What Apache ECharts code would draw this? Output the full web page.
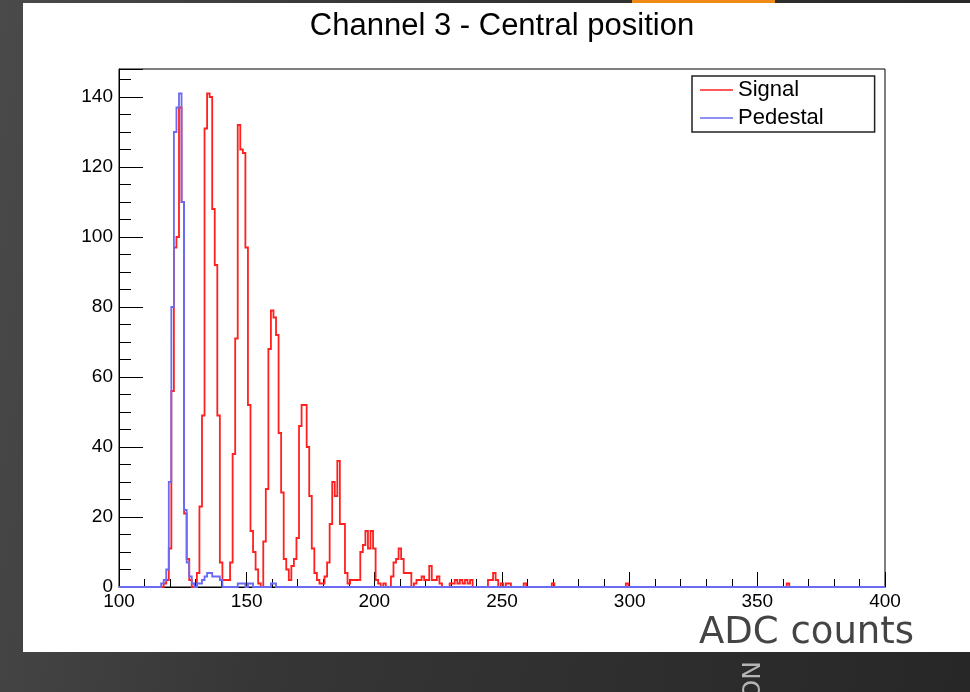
<!DOCTYPE html>
<html><head><meta charset="utf-8">
<script src="https://cdn.jsdelivr.net/npm/echarts@6/dist/echarts.min.js"></script>
<style>
html,body{margin:0;padding:0;width:970px;height:692px;overflow:hidden;background:linear-gradient(100deg,#4a4a4a 0%,#363636 35%,#272727 100%);}
#panel{position:absolute;left:23px;top:3px;width:947px;height:649px;background:#fff;}
#strip{position:absolute;left:632px;top:0;width:143px;height:3px;background:#ef8a17;}
#chart{position:absolute;left:0;top:0;width:970px;height:692px;}
</style></head><body>
<div id="panel"></div><div id="strip"></div><div id="chart"></div>
<script>
// ---- data ----
const chartTitle = 'Channel 3 - Central position';
const xTitle = 'ADC counts';
const sideText = 'CONCLUSION';
const seriesNames = ['Signal', 'Pedestal'];
const xRange = [100, 400];
const xTickStep = 50;
const yTickStep = 20;
const yMinorStep = 5;
const yTop = 148;

// Signal: counts per 1-ADC bin, bin centres from 115 upward
const signalFirstCentre = 115;
const signalCounts = [
  0, 0, 0, 1, 2, 11, 56, 97, 100, 137,
  110, 21, 8, 2, 0, 0, 4, 23, 49, 131,
  141, 140, 108, 92, 49, 7, 2, 2, 2, 7,
  38, 71, 132, 125, 124, 97, 52, 16, 10, 5,
  1, 0, 13, 28, 68, 79, 77, 72, 44, 27,
  8, 5, 2, 6, 8, 14, 46, 52, 52, 40,
  26, 11, 4, 2, 1, 1, 3, 7, 18, 30,
  26, 36, 18, 18, 4, 1, 2, 2, 2, 2,
  10, 12, 16, 11, 16, 11, 2, 1, 0, 1,
  0, 0, 3, 7, 8, 11, 8, 4, 4, 4,
  0, 1, 2, 2, 3, 2, 2, 6, 2, 2,
  3, 1, 0, 0, 0, 1, 1, 2, 1, 2,
  1, 2, 1, 2, 0, 0, 0, 0, 0, 0,
  2, 2, 4, 2, 0, 1, 0, 1, 1
];
const signalTailCentres = [259, 270, 299, 362];
const signalTailCounts = [1, 1, 1, 1];

// Pedestal
const pedestalFirstCentre = 115;
const pedestalCounts = [
  0, 0, 1, 2, 5, 30, 80, 130, 137, 141,
  110, 22, 7, 3, 1, 0, 1, 1, 2, 3,
  4, 4, 3, 3, 3, 2, 0, 0, 0, 0,
  0, 0, 1, 1, 1, 0, 1, 1, 0, 0,
  0, 0, 0, 0, 0, 1, 1
];
const pedestalTailCentres = [];
const pedestalTailCounts = [];

// ---- build histogram outlines from the bins ----
function outline(firstCentre, counts, tailCentres, tailCounts) {
  const pts = [[xRange[0], 0]];
  const addBin = (c, n) => { pts.push([c - 0.5, n], [c + 0.5, n]); };
  pts.push([firstCentre - 0.5, 0]);
  counts.forEach((n, i) => addBin(firstCentre + i, n));
  pts.push([firstCentre + counts.length - 0.5, 0]);
  tailCentres.forEach((c, i) => { pts.push([c - 0.5, 0]); addBin(c, tailCounts[i]); pts.push([c + 0.5, 0]); });
  pts.push([xRange[1], 0]);
  return pts;
}

const FONT = '"Liberation Sans", Arial, Helvetica, sans-serif';
const RED = '#ff2020', BLUE = '#6a6af2';
const chart = echarts.init(document.getElementById('chart'), null, { renderer: 'canvas' });
chart.setOption({
  animation: false,
  backgroundColor: 'transparent',
  grid: { left: 119, right: 85, top: 69, bottom: 105, containLabel: false, show: true,
          borderColor: '#000', borderWidth: 1, backgroundColor: 'transparent' },
  xAxis: {
    type: 'value', min: xRange[0], max: xRange[1], interval: xTickStep,
    axisLine: { show: true, lineStyle: { color: '#000', width: 1 } },
    axisTick: { show: true, inside: true, length: 15, lineStyle: { color: '#000', width: 1 } },
    minorTick: { show: true, splitNumber: 5, length: 8, lineStyle: { color: '#000', width: 1 } },
    splitLine: { show: false }, minorSplitLine: { show: false },
    axisLabel: { show: true, margin: 5, color: '#000', fontSize: 19, fontFamily: FONT }
  },
  yAxis: [{
    type: 'value', min: 0, max: yTop, interval: yTickStep, position: 'left',
    axisLine: { show: true, lineStyle: { color: '#000', width: 1 } },
    axisTick: { show: true, inside: true, length: 24, lineStyle: { color: '#000', width: 1 } },
    splitLine: { show: false },
    axisLabel: { show: true, margin: 6, color: '#000', fontSize: 19, fontFamily: FONT,
                 formatter: v => (v % yTickStep === 0 ? String(v) : '') }
  }, {
    type: 'value', min: 0, max: yTop, interval: yMinorStep, position: 'left',
    axisLine: { show: false },
    axisTick: { show: true, inside: true, length: 12, lineStyle: { color: '#000', width: 1 } },
    splitLine: { show: false },
    axisLabel: { show: false }
  }],
  legend: {
    left: 692, top: 76, orient: 'vertical',
    data: seriesNames.map(n => ({ name: n, icon: 'rect' })),
    itemWidth: 33, itemHeight: 1.5, itemGap: 6,
    padding: [3, 51, 3, 8],
    borderColor: '#222', borderWidth: 1.5, backgroundColor: '#fff',
    textStyle: { color: '#000', fontSize: 22, fontFamily: FONT, lineHeight: 22 }
  },
  graphic: [
    { type: 'text', x: 502, y: 26, style: { text: chartTitle, fill: '#000', font: '31px ' + FONT, align: 'center', verticalAlign: 'middle' } },
    { type: 'text', x: 699, y: 633, style: { text: xTitle, fill: '#444', font: '37px "DejaVu Sans", sans-serif', align: 'left', verticalAlign: 'middle' } },
    { type: 'text', x: 753, y: 661, rotation: Math.PI / 2, style: { text: sideText, fill: '#b5b5b5', font: '25px "DejaVu Sans", sans-serif', align: 'right', verticalAlign: 'middle' } }
  ],
  series: [
    { name: seriesNames[0], type: 'line', yAxisIndex: 0, symbol: 'none', showSymbol: false,
      data: outline(signalFirstCentre, signalCounts, signalTailCentres, signalTailCounts),
      lineStyle: { color: RED, width: 1.8, join: 'miter' }, itemStyle: { color: RED } },
    { name: seriesNames[1], type: 'line', yAxisIndex: 0, symbol: 'none', showSymbol: false,
      data: outline(pedestalFirstCentre, pedestalCounts, pedestalTailCentres, pedestalTailCounts),
      lineStyle: { color: BLUE, width: 1.8, join: 'miter' }, itemStyle: { color: BLUE } }
  ]
});
</script>
</body></html>
